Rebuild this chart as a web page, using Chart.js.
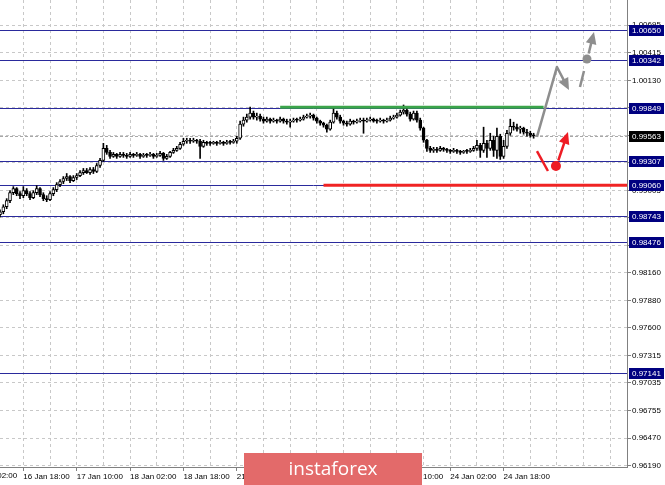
<!DOCTYPE html>
<html>
<head>
<meta charset="utf-8">
<script src="https://cdn.jsdelivr.net/npm/chart.js@4.4.0/dist/chart.umd.min.js"></script>
<style>
  html, body { margin: 0; padding: 0; background: #ffffff; }
  canvas { display: block; }
</style>
</head>
<body>
<canvas id="grafica" width="665" height="485"></canvas>
<script>
// Velas horarias (H1)
const opens = [
  0.98755, 0.98786, 0.98837, 0.98899, 0.98981, 0.99023, 0.98971, 0.98950, 0.99002, 0.98971,
  0.98930, 0.98981, 0.99023, 0.98961, 0.98920, 0.98909, 0.98971, 0.99012, 0.99064, 0.99095,
  0.99126, 0.99146, 0.99105, 0.99136, 0.99156, 0.99187, 0.99208, 0.99187, 0.99218, 0.99198,
  0.99259, 0.99311, 0.99435, 0.99393, 0.99352, 0.99373, 0.99352, 0.99373, 0.99362, 0.99352,
  0.99373, 0.99362, 0.99373, 0.99352, 0.99362, 0.99362, 0.99373, 0.99352, 0.99362, 0.99383,
  0.99332, 0.99352, 0.99393, 0.99414, 0.99435, 0.99476, 0.99507, 0.99517, 0.99507, 0.99517,
  0.99507, 0.99455, 0.99496, 0.99486, 0.99486, 0.99496, 0.99486, 0.99496, 0.99486, 0.99496,
  0.99496, 0.99507, 0.99538, 0.99682, 0.99723, 0.99754, 0.99795, 0.99754, 0.99764, 0.99733,
  0.99713, 0.99733, 0.99713, 0.99723, 0.99713, 0.99733, 0.99713, 0.99702, 0.99713, 0.99723,
  0.99723, 0.99733, 0.99754, 0.99764, 0.99774, 0.99744, 0.99713, 0.99692, 0.99671, 0.99630,
  0.99702, 0.99795, 0.99754, 0.99713, 0.99692, 0.99682, 0.99713, 0.99702, 0.99713, 0.99723,
  0.99713, 0.99723, 0.99733, 0.99713, 0.99713, 0.99723, 0.99713, 0.99723, 0.99744, 0.99754,
  0.99774, 0.99805, 0.99826, 0.99785, 0.99733, 0.99795, 0.99723, 0.99641, 0.99517, 0.99435,
  0.99414, 0.99424, 0.99414, 0.99435, 0.99424, 0.99414, 0.99404, 0.99414, 0.99404, 0.99393,
  0.99404, 0.99404, 0.99414, 0.99435, 0.99465, 0.99414, 0.99486, 0.99435, 0.99517, 0.99414,
  0.99558, 0.99352, 0.99455, 0.99589, 0.99661, 0.99651, 0.99630, 0.99641, 0.99599, 0.99589,
  0.99568
];
const highs = [
  0.98806, 0.98858, 0.98920, 0.99002, 0.99043, 0.99033, 0.98992, 0.99043, 0.99023, 0.98992,
  0.99002, 0.99053, 0.99033, 0.98981, 0.98950, 0.98992, 0.99033, 0.99084, 0.99115, 0.99146,
  0.99177, 0.99156, 0.99156, 0.99177, 0.99208, 0.99229, 0.99229, 0.99239, 0.99239, 0.99280,
  0.99332, 0.99486, 0.99465, 0.99414, 0.99393, 0.99383, 0.99393, 0.99393, 0.99383, 0.99393,
  0.99383, 0.99393, 0.99383, 0.99383, 0.99383, 0.99393, 0.99383, 0.99383, 0.99404, 0.99393,
  0.99373, 0.99404, 0.99435, 0.99455, 0.99496, 0.99538, 0.99538, 0.99538, 0.99538, 0.99527,
  0.99527, 0.99517, 0.99507, 0.99507, 0.99507, 0.99507, 0.99517, 0.99507, 0.99517, 0.99517,
  0.99527, 0.99558, 0.99713, 0.99754, 0.99785, 0.99857, 0.99816, 0.99795, 0.99785, 0.99754,
  0.99754, 0.99744, 0.99744, 0.99733, 0.99754, 0.99744, 0.99733, 0.99733, 0.99744, 0.99744,
  0.99754, 0.99774, 0.99785, 0.99795, 0.99785, 0.99754, 0.99723, 0.99702, 0.99682, 0.99723,
  0.99847, 0.99816, 0.99774, 0.99723, 0.99713, 0.99733, 0.99723, 0.99733, 0.99744, 0.99744,
  0.99744, 0.99754, 0.99744, 0.99733, 0.99744, 0.99733, 0.99744, 0.99764, 0.99774, 0.99795,
  0.99826, 0.99878, 0.99847, 0.99805, 0.99816, 0.99816, 0.99744, 0.99651, 0.99527, 0.99455,
  0.99445, 0.99445, 0.99455, 0.99445, 0.99435, 0.99424, 0.99435, 0.99424, 0.99414, 0.99414,
  0.99424, 0.99435, 0.99455, 0.99517, 0.99486, 0.99651, 0.99517, 0.99589, 0.99558, 0.99641,
  0.99579, 0.99517, 0.99620, 0.99733, 0.99702, 0.99682, 0.99661, 0.99651, 0.99630, 0.99610,
  0.99589
];
const lows = [
  0.98734, 0.98765, 0.98817, 0.98878, 0.98961, 0.98950, 0.98920, 0.98930, 0.98950, 0.98909,
  0.98920, 0.98961, 0.98940, 0.98899, 0.98889, 0.98899, 0.98950, 0.98992, 0.99043, 0.99074,
  0.99105, 0.99084, 0.99095, 0.99115, 0.99146, 0.99167, 0.99177, 0.99167, 0.99177, 0.99187,
  0.99239, 0.99301, 0.99373, 0.99332, 0.99342, 0.99332, 0.99342, 0.99342, 0.99332, 0.99342,
  0.99342, 0.99352, 0.99332, 0.99342, 0.99342, 0.99352, 0.99332, 0.99342, 0.99352, 0.99311,
  0.99321, 0.99342, 0.99383, 0.99404, 0.99424, 0.99465, 0.99486, 0.99486, 0.99496, 0.99486,
  0.99332, 0.99445, 0.99465, 0.99465, 0.99476, 0.99465, 0.99476, 0.99465, 0.99476, 0.99476,
  0.99486, 0.99486, 0.99527, 0.99661, 0.99702, 0.99733, 0.99733, 0.99723, 0.99713, 0.99692,
  0.99702, 0.99692, 0.99702, 0.99692, 0.99702, 0.99692, 0.99682, 0.99651, 0.99702, 0.99702,
  0.99713, 0.99723, 0.99744, 0.99744, 0.99723, 0.99692, 0.99671, 0.99651, 0.99599, 0.99620,
  0.99692, 0.99733, 0.99692, 0.99671, 0.99661, 0.99671, 0.99682, 0.99692, 0.99702, 0.99589,
  0.99702, 0.99713, 0.99702, 0.99692, 0.99702, 0.99692, 0.99702, 0.99713, 0.99733, 0.99744,
  0.99764, 0.99785, 0.99764, 0.99713, 0.99723, 0.99702, 0.99620, 0.99496, 0.99404, 0.99393,
  0.99393, 0.99393, 0.99404, 0.99404, 0.99393, 0.99383, 0.99393, 0.99383, 0.99373, 0.99383,
  0.99383, 0.99393, 0.99404, 0.99414, 0.99342, 0.99393, 0.99342, 0.99414, 0.99352, 0.99332,
  0.99321, 0.99332, 0.99435, 0.99568, 0.99620, 0.99610, 0.99589, 0.99579, 0.99558, 0.99548,
  0.99538
];
const closes = [
  0.98786, 0.98837, 0.98899, 0.98981, 0.99023, 0.98971, 0.98950, 0.99002, 0.98971, 0.98930,
  0.98981, 0.99023, 0.98961, 0.98920, 0.98909, 0.98971, 0.99012, 0.99064, 0.99095, 0.99126,
  0.99146, 0.99105, 0.99136, 0.99156, 0.99187, 0.99208, 0.99187, 0.99218, 0.99198, 0.99259,
  0.99311, 0.99435, 0.99393, 0.99352, 0.99373, 0.99352, 0.99373, 0.99362, 0.99352, 0.99373,
  0.99362, 0.99373, 0.99352, 0.99362, 0.99362, 0.99373, 0.99352, 0.99362, 0.99383, 0.99332,
  0.99352, 0.99393, 0.99414, 0.99435, 0.99476, 0.99507, 0.99517, 0.99507, 0.99517, 0.99507,
  0.99455, 0.99496, 0.99486, 0.99486, 0.99496, 0.99486, 0.99496, 0.99486, 0.99496, 0.99496,
  0.99507, 0.99538, 0.99682, 0.99723, 0.99754, 0.99795, 0.99754, 0.99764, 0.99733, 0.99713,
  0.99733, 0.99713, 0.99723, 0.99713, 0.99733, 0.99713, 0.99702, 0.99713, 0.99723, 0.99723,
  0.99733, 0.99754, 0.99764, 0.99774, 0.99744, 0.99713, 0.99692, 0.99671, 0.99630, 0.99702,
  0.99795, 0.99754, 0.99713, 0.99692, 0.99682, 0.99713, 0.99702, 0.99713, 0.99723, 0.99713,
  0.99723, 0.99733, 0.99713, 0.99713, 0.99723, 0.99713, 0.99723, 0.99744, 0.99754, 0.99774,
  0.99805, 0.99826, 0.99785, 0.99733, 0.99795, 0.99723, 0.99641, 0.99517, 0.99435, 0.99414,
  0.99424, 0.99414, 0.99435, 0.99424, 0.99414, 0.99404, 0.99414, 0.99404, 0.99393, 0.99404,
  0.99404, 0.99414, 0.99435, 0.99465, 0.99414, 0.99486, 0.99435, 0.99517, 0.99414, 0.99558,
  0.99352, 0.99455, 0.99589, 0.99661, 0.99651, 0.99630, 0.99641, 0.99599, 0.99589, 0.99568,
  0.99563
];

// Eje de tiempo: barras con datos + barras futuras vacias
const totalBars = 189;
const tickBars = [-9, 7, 23, 39, 55, 71, 87, 103, 119, 135, 151];
const tickLabels = ['16 Jan 02:00', '16 Jan 18:00', '17 Jan 10:00', '18 Jan 02:00', '18 Jan 18:00',
  '21 Jan 10:00', '22 Jan 02:00', '22 Jan 18:00', '23 Jan 10:00', '24 Jan 02:00', '24 Jan 18:00'];

// Eje de precios
const yTicks = [0.96190, 0.96470, 0.96755, 0.97035, 0.97315, 0.97600, 0.97880, 0.98160, 0.98445,
  0.98725, 0.99005, 0.99285, 0.99565, 0.99850, 1.00130, 1.00415, 1.00695];
const levels = [1.00650, 1.00342, 0.99849, 0.99307, 0.99060, 0.98743, 0.98476, 0.97141];
const lastPrice = 0.99563;

// Lineas verde (resistencia) y roja (soporte): [barra inicio, barra fin, precio]
const greenLine = [84, 163, 0.99855];
const redLine = [97, 188, 0.99058];

// Flechas de escenario: puntos [barra, precio]
const grayPath = [[161, 0.99551], [167, 1.00267], [170.6, 1.00031]];
const grayDash = [[173.9, 1.00062], [175.1, 1.00226]];
const grayDot = [176.0, 1.00349];
const grayUp = [[176.5, 1.00405], [178.1, 1.00625]];
const redPath = [[161, 0.99407], [164.3, 0.99203]];
const redDot = [166.7, 0.99254];
const redUp = [[167.4, 0.99310], [170.3, 0.99602]];

const barLabels = Array.from({ length: totalBars }, (_, i) => i);
const bodies = opens.map((o, i) => [o, closes[i]]);
const wicks = lows.map((l, i) => [l, highs[i]]);
const segment = (s) => barLabels.map(i => (i >= s[0] && i <= s[1]) ? s[2] : null);

const FONT = 'Liberation Sans';
const GRID = '#c8c8c8';
const AXIS = '#808080';
const NAVY = '#2a2a9c';

function toPx(chart, p) {
    return [chart.scales.x.getPixelForValue(p[0]), chart.scales.y.getPixelForValue(p[1])];
}

function arrow(ctx, chart, pts, color, width, head) {
    const px = pts.map(p => toPx(chart, p));
    const a = px[px.length - 2], b = px[px.length - 1];
    const ang = Math.atan2(b[1] - a[1], b[0] - a[0]);
    const end = head ? [b[0] - head * 0.7 * Math.cos(ang), b[1] - head * 0.7 * Math.sin(ang)] : b;
    ctx.strokeStyle = color;
    ctx.fillStyle = color;
    ctx.lineWidth = width;
    ctx.lineJoin = 'round';
    ctx.beginPath();
    ctx.moveTo(px[0][0], px[0][1]);
    for (let i = 1; i < px.length - 1; i++) ctx.lineTo(px[i][0], px[i][1]);
    ctx.lineTo(end[0], end[1]);
    ctx.stroke();
    if (head) {
        const half = head * 0.45;
        const bx = b[0] - head * Math.cos(ang), by = b[1] - head * Math.sin(ang);
        ctx.beginPath();
        ctx.moveTo(b[0], b[1]);
        ctx.lineTo(bx + half * Math.sin(ang), by - half * Math.cos(ang));
        ctx.lineTo(bx - half * Math.sin(ang), by + half * Math.cos(ang));
        ctx.closePath();
        ctx.fill();
    }
}

function dot(ctx, chart, p, color, r) {
    const c = toPx(chart, p);
    ctx.fillStyle = color;
    ctx.beginPath();
    ctx.arc(c[0], c[1], r, 0, Math.PI * 2);
    ctx.fill();
}

const overlay = {
    id: 'overlay',
    beforeDatasetsDraw(chart) {
        const { ctx, chartArea: a, scales: { y } } = chart;
        ctx.save();
        // linea del ultimo precio
        let py = Math.round(y.getPixelForValue(lastPrice)) + 0.5;
        ctx.strokeStyle = '#a8a8a8';
        ctx.lineWidth = 1;
        ctx.setLineDash([3, 2]);
        ctx.beginPath(); ctx.moveTo(a.left, py); ctx.lineTo(a.right, py); ctx.stroke();
        // niveles horizontales
        ctx.setLineDash([]);
        ctx.strokeStyle = NAVY;
        levels.forEach(p => {
            py = Math.round(y.getPixelForValue(p)) + 0.5;
            ctx.beginPath(); ctx.moveTo(a.left, py); ctx.lineTo(a.right, py); ctx.stroke();
        });
        ctx.restore();
    },
    afterDatasetsDraw(chart) {
        const ctx = chart.ctx;
        ctx.save();
        arrow(ctx, chart, grayPath, '#8e8e8e', 2.5, 12);
        arrow(ctx, chart, grayDash, '#8e8e8e', 2.5, 0);
        dot(ctx, chart, grayDot, '#8e8e8e', 4.5);
        arrow(ctx, chart, grayUp, '#8e8e8e', 2.5, 12);
        arrow(ctx, chart, redPath, '#ee1c24', 2.5, 0);
        dot(ctx, chart, redDot, '#ee1c24', 5);
        arrow(ctx, chart, redUp, '#ee1c24', 2.5, 12);
        ctx.restore();
    },
    afterDraw(chart) {
        const { ctx, chartArea: a, scales: { x, y } } = chart;
        ctx.save();
        ctx.font = '8px "' + FONT + '"';
        ctx.textBaseline = 'middle';
        ctx.textAlign = 'left';
        // etiquetas de niveles en el eje derecho
        const box = (p, bg) => {
            const py = Math.round(y.getPixelForValue(p));
            ctx.fillStyle = bg;
            ctx.fillRect(a.right + 2, py - 5, 35, 11);
            ctx.fillStyle = '#ffffff';
            ctx.fillText(p.toFixed(5), a.right + 5, py + 0.5);
        };
        levels.forEach(p => box(p, '#000080'));
        box(lastPrice, '#000000');
        // etiqueta parcial a la izquierda
        ctx.fillStyle = '#000000';
        ctx.textBaseline = 'top';
        tickBars.forEach((b, k) => {
            if (b < 0) ctx.fillText(tickLabels[k], x.getPixelForValue(b) + 1, a.bottom + 5);
        });
        // marca de agua
        ctx.fillStyle = '#e36a6a';
        ctx.fillRect(244, 453, 178, 32);
        ctx.fillStyle = '#ffffff';
        ctx.font = '19px "Open Sans"';
        ctx.textAlign = 'center';
        ctx.textBaseline = 'alphabetic';
        ctx.fillText('instaforex', 333, 475);
        ctx.restore();
    }
};

document.addEventListener('DOMContentLoaded', function () {
    const grafica = document.getElementById('grafica');
    Chart.defaults.font.family = FONT;
    Chart.defaults.font.size = 8;
    Chart.defaults.color = '#000000';

    new Chart(grafica, {
        type: 'bar',
        data: {
            labels: barLabels,
            datasets: [
                {
                    type: 'line', data: segment(greenLine), borderColor: '#3ba54a', borderWidth: 3,
                    pointRadius: 0, spanGaps: false, order: -1
                },
                {
                    type: 'line', data: segment(redLine), borderColor: '#f02323', borderWidth: 3,
                    pointRadius: 0, spanGaps: false, order: -1
                },
                {
                    data: bodies,
                    backgroundColor: bodies.map(b => b[1] > b[0] ? '#ffffff' : '#000000'),
                    borderColor: '#000000', borderWidth: 1, borderSkipped: false,
                    barThickness: 3, minBarLength: 1, grouped: false, order: 0
                },
                {
                    data: wicks, backgroundColor: '#000000', borderWidth: 0,
                    barThickness: 1, grouped: false, order: 1
                }
            ]
        },
        options: {
            responsive: false,
            animation: false,
            events: [],
            layout: { padding: 0 },
            plugins: { legend: { display: false }, tooltip: { enabled: false } },
            scales: {
                x: {
                    type: 'category',
                    offset: false,
                    ticks: {
                        autoSkip: false, maxRotation: 0, minRotation: 0, align: 'start', padding: 1,
                        callback: (v, i) => { const k = tickBars.indexOf(i); return k >= 0 ? tickLabels[k] : ''; }
                    },
                    grid: {
                        offset: false, tickLength: 4,
                        color: c => (c.index - 7) % 8 === 0 ? GRID : 'transparent',
                        tickColor: c => tickBars.includes(c.index) ? AXIS : 'transparent'
                    },
                    border: { color: AXIS, dash: [3, 3] },
                    afterFit: s => { s.height = 18; s.paddingLeft = 0; s.paddingRight = 0; }
                },
                y: {
                    position: 'right',
                    min: 0.96175,
                    max: 1.00952,
                    afterBuildTicks: s => { s.ticks = yTicks.map(v => ({ value: v })); },
                    ticks: { padding: 1, callback: v => v.toFixed(5) },
                    grid: { color: GRID, tickColor: AXIS, tickLength: 4 },
                    border: { color: AXIS, dash: [3, 3] },
                    afterFit: s => { s.width = 38; s.paddingTop = 0; s.paddingBottom = 0; }
                }
            }
        },
        plugins: [overlay]
    });
});
</script>
</body>
</html>
